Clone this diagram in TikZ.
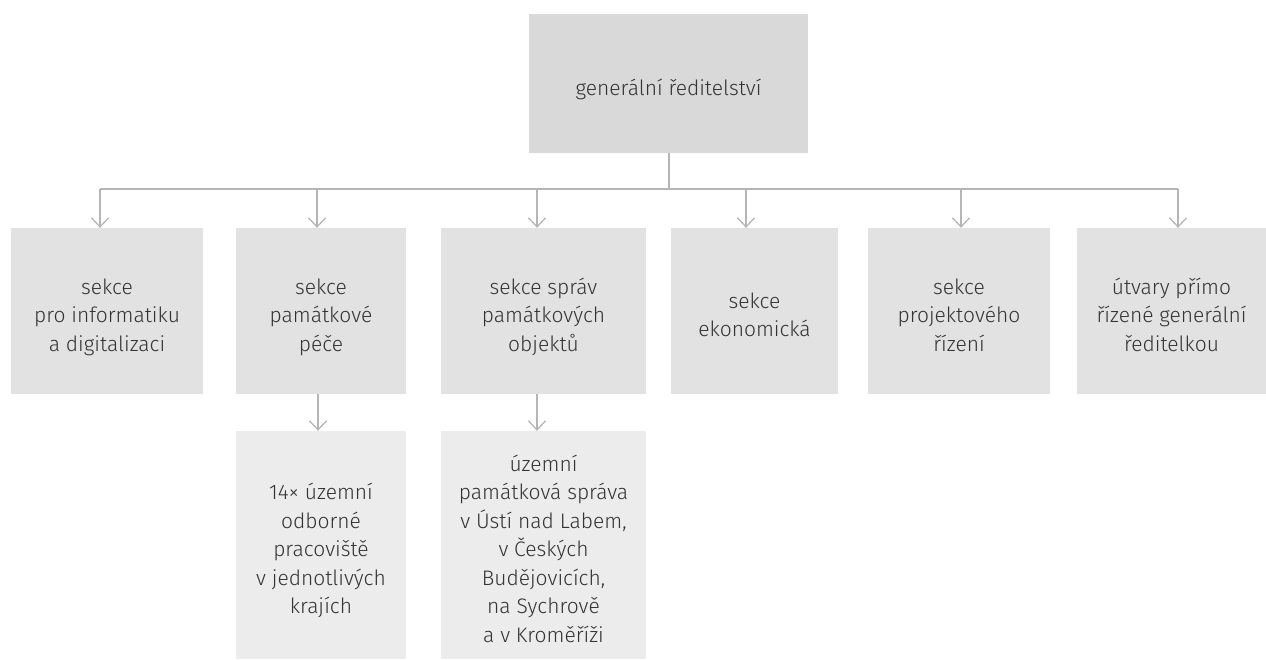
\documentclass[tikz,border=0pt]{standalone}
\usepackage{fontspec}
\setmainfont{Fira Sans Light}
\usetikzlibrary{arrows.meta}
\definecolor{topfill}{HTML}{D9D9D9}
\definecolor{midfill}{HTML}{E2E2E2}
\definecolor{lowfill}{HTML}{ECECEC}
\definecolor{linecol}{HTML}{B5B5B5}
\definecolor{txt}{HTML}{333333}
\newcommand{\lowered}[1]{\raisebox{-6pt}[\height][\depth]{#1}}
\tikzset{
  boxbase/.style={inner sep=0pt, align=center, text=txt, font=\fontsize{21}{28.5}\selectfont},
  topbox/.style={boxbase, fill=topfill},
  midbox/.style={boxbase, fill=midfill, minimum height=166pt},
  lowbox/.style={boxbase, fill=lowfill, minimum height=228pt},
  conn/.style={draw=linecol, line width=1.3pt},
  arr/.style={conn, -{Straight Barb[length=9pt, width=17pt, line width=1.3pt]}}
}
\begin{document}
\begin{tikzpicture}[x=1pt, y=-1pt]
\useasboundingbox (0,0) rectangle (1266,659);
\node[topbox, minimum width=279pt, minimum height=139pt] (top) at (668.5,83.5) {\lowered{generální ředitelství}};
\node[midbox, minimum width=192pt] (b1) at (107,311) {\lowered{\begin{tabular}{@{}c@{}}sekce\\pro informatiku\\a digitalizaci\end{tabular}}};
\node[midbox, minimum width=170pt] (b2) at (321,311) {\lowered{\begin{tabular}{@{}c@{}}sekce\\památkové\\péče\end{tabular}}};
\node[midbox, minimum width=205pt] (b3) at (543.5,311) {\lowered{\begin{tabular}{@{}c@{}}sekce správ\\památkových\\objektů\end{tabular}}};
\node[midbox, minimum width=167pt] (b4) at (754.5,311) {\lowered{\begin{tabular}{@{}c@{}}sekce\\ekonomická\end{tabular}}};
\node[midbox, minimum width=182pt] (b5) at (959,311) {\lowered{\begin{tabular}{@{}c@{}}sekce\\projektového\\řízení\end{tabular}}};
\node[midbox, minimum width=189pt] (b6) at (1171.5,311) {\lowered{\begin{tabular}{@{}c@{}}útvary přímo\\řízené generální\\ředitelkou\end{tabular}}};
\node[lowbox, minimum width=170pt] (c2) at (321,545) {\lowered{\begin{tabular}{@{}c@{}}14× územní\\odborné\\pracoviště\\v jednotlivých\\krajích\end{tabular}}};
\node[lowbox, minimum width=205pt] (c3) at (543.5,545) {\lowered{\begin{tabular}{@{}c@{}}územní\\památková správa\\v Ústí nad Labem,\\v Českých\\Budějovicích,\\na Sychrově\\a v Kroměříži\end{tabular}}};
\coordinate (j) at (669,189);
\coordinate (a1) at (100,189);
\coordinate (a2) at (317,189);
\coordinate (a3) at (537,189);
\coordinate (a4) at (746,189);
\coordinate (a5) at (961,189);
\coordinate (a6) at (1178,189);
\draw[conn] (top.south -| j) -- (j);
\draw[conn] (a1) -- (a6);
\draw[arr] (a1) -- (a1 |- b1.north);
\draw[arr] (a2) -- (a2 |- b2.north);
\draw[arr] (a3) -- (a3 |- b3.north);
\draw[arr] (a4) -- (a4 |- b4.north);
\draw[arr] (a5) -- (a5 |- b5.north);
\draw[arr] (a6) -- (a6 |- b6.north);
\coordinate (d2) at (318,0);
\coordinate (d3) at (537,0);
\draw[arr] (d2 |- b2.south) -- (d2 |- c2.north);
\draw[arr] (d3 |- b3.south) -- (d3 |- c3.north);
\end{tikzpicture}
\end{document}
